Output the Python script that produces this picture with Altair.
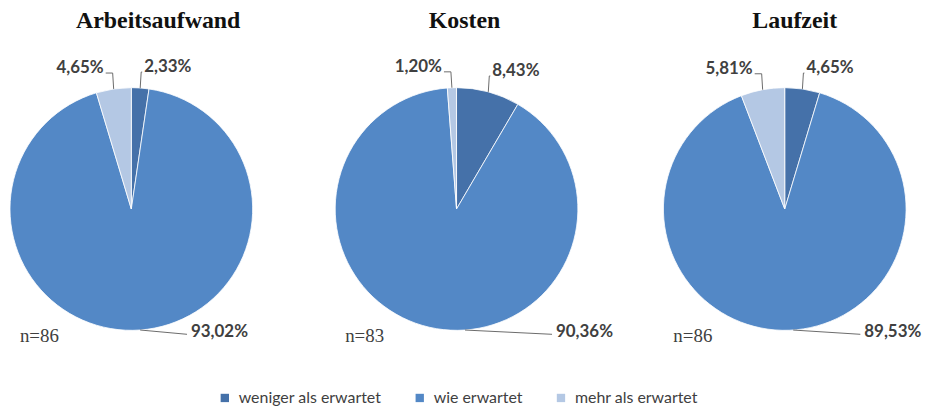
import altair as alt
import pandas as pd

# ---------------- data ----------------
GROUPS = ["Arbeitsaufwand", "Kosten", "Laufzeit"]
N_RESP = [86, 83, 86]
CATEGORIES = ["weniger als erwartet", "wie erwartet", "mehr als erwartet"]
WENIGER = [2.33, 8.43, 4.65]
WIE = [93.02, 90.36, 89.53]
MEHR = [4.65, 1.20, 5.81]

# ---------------- style / layout ----------------
COLORS = ["#4571A9", "#5388C6", "#B4C8E4"]
W, H = 914, 394
R = 122
CY = 201
CX = [122, 449, 779]          # pie centres (plot pixels)
TITLE_DX = [27, 8, 10]        # title offset from pie centre
BIG_DX = [60, 100, 80]        # big-slice label offset from pie centre
TXT = "#404040"

rows = []
for gi, g in enumerate(GROUPS):
    for ci, (cat, series) in enumerate(zip(CATEGORIES, [WENIGER, WIE, MEHR])):
        rows.append(dict(group=g, cat=cat, order=ci, value=series[gi],
                         cx=CX[gi], bigdx=BIG_DX[gi]))
df = pd.DataFrame(rows)

df_n = pd.DataFrame({"group": GROUPS, "n": N_RESP, "cx": CX, "tdx": TITLE_DX})

xs = alt.Scale(domain=[0, W], nice=False, zero=False)
ys = alt.Scale(domain=[0, H], nice=False, zero=False, reverse=True)

legend = alt.Legend(
    title=None, orient="none", direction="horizontal", legendX=208, legendY=383,
    symbolType="square", symbolSize=70, symbolStrokeWidth=0, labelFont="Lato",
    labelFontSize=16, labelColor=TXT, labelOffset=6, columnPadding=30,
    labelLimit=400, padding=0,
)

color = alt.Color("cat:N", scale=alt.Scale(domain=CATEGORIES, range=COLORS), legend=legend)

arcs = []
for gi, g in enumerate(GROUPS):
    arcs.append(
        alt.Chart(df)
        .transform_filter(alt.datum.group == g)
        .mark_arc(x=CX[gi], y=CY, outerRadius=R, stroke="white", strokeWidth=0.8)
        .encode(
            theta=alt.Theta("value:Q", stack=True, scale=alt.Scale(domain=[0, 100])),
            color=color,
            order=alt.Order("order:Q", sort="ascending"),
        )
    )

lab = (
    alt.Chart(df)
    .transform_window(cum="sum(value)", groupby=["group"],
                      sort=[alt.SortField("order", order="ascending")], frame=[None, 0])
    .transform_calculate(
        a="(datum.cum - datum.value/2) / 100 * 2 * PI",
    )
    .transform_calculate(
        top="cos(datum.a) > 0",
        sgn="sin(datum.a) >= 0 ? 1 : -1",
        px=f"datum.cx + {R}*sin(datum.a)",
        py=f"{CY} - {R}*cos(datum.a)",
        s="min(datum.a, 176*PI/180)",
    )
    .transform_calculate(
        lx="datum.top ? (datum.sgn > 0 ? datum.px + 4 : datum.px - 10) : datum.cx + datum.bigdx",
        ly=f"datum.top ? datum.py - 21 : {CY + R + 2}",
        x1=f"datum.top ? datum.px : datum.cx + {R}*sin(datum.s)",
        y1=f"datum.top ? datum.py : {CY} - {R}*cos(datum.s)",
    )
    .transform_calculate(
        x2="datum.top ? datum.px + datum.sgn : datum.lx - 4",
        y2="datum.top ? datum.py - 16 : datum.ly + 2",
        x3="datum.top ? (datum.sgn > 0 ? datum.px + 2 : datum.px - 8) : datum.lx - 4",
        label="replace(format(datum.value, '.2f'), '.', ',') + '%'",
        right="datum.top && datum.sgn < 0",
    )
)

rule1 = lab.mark_rule(color="#6b6b6b", strokeWidth=1).encode(
    x=alt.X("x1:Q", scale=xs, axis=None), y=alt.Y("y1:Q", scale=ys, axis=None),
    x2="x2:Q", y2="y2:Q")
rule2 = lab.mark_rule(color="#6b6b6b", strokeWidth=1).encode(
    x=alt.X("x2:Q", scale=xs, axis=None), y=alt.Y("y2:Q", scale=ys, axis=None),
    x2="x3:Q", y2="y2:Q")

tstyle = dict(baseline="middle", font="Lato", fontWeight="bold", fontSize=17, color=TXT)
text_left = lab.transform_filter("!datum.right").mark_text(align="left", **tstyle).encode(
    x=alt.X("lx:Q", scale=xs, axis=None), y=alt.Y("ly:Q", scale=ys, axis=None), text="label:N")
text_right = lab.transform_filter("datum.right").mark_text(align="right", **tstyle).encode(
    x=alt.X("lx:Q", scale=xs, axis=None), y=alt.Y("ly:Q", scale=ys, axis=None), text="label:N")

nbase = alt.Chart(df_n).transform_calculate(
    nx="datum.cx - 112", ny=f"{CY + 128}", nlabel="'n=' + datum.n",
    tx="datum.cx + datum.tdx", ty="19",
)
ntext = nbase.mark_text(align="left", baseline="middle", font="Liberation Serif",
                        fontSize=19, color=TXT).encode(
    x=alt.X("nx:Q", scale=xs, axis=None), y=alt.Y("ny:Q", scale=ys, axis=None), text="nlabel:N")
titles = nbase.mark_text(align="center", baseline="alphabetic", font="Liberation Serif",
                         fontWeight="bold", fontSize=24, color="#111111").encode(
    x=alt.X("tx:Q", scale=xs, axis=None), y=alt.Y("ty:Q", scale=ys, axis=None), text="group:N")

chart = (
    alt.layer(*arcs, rule1, rule2, text_left, text_right, ntext, titles)
    .properties(width=W, height=H, padding=0)
    .configure_view(stroke=None)
)

chart.save("out.html", embed_options={"renderer": "svg", "actions": False})
